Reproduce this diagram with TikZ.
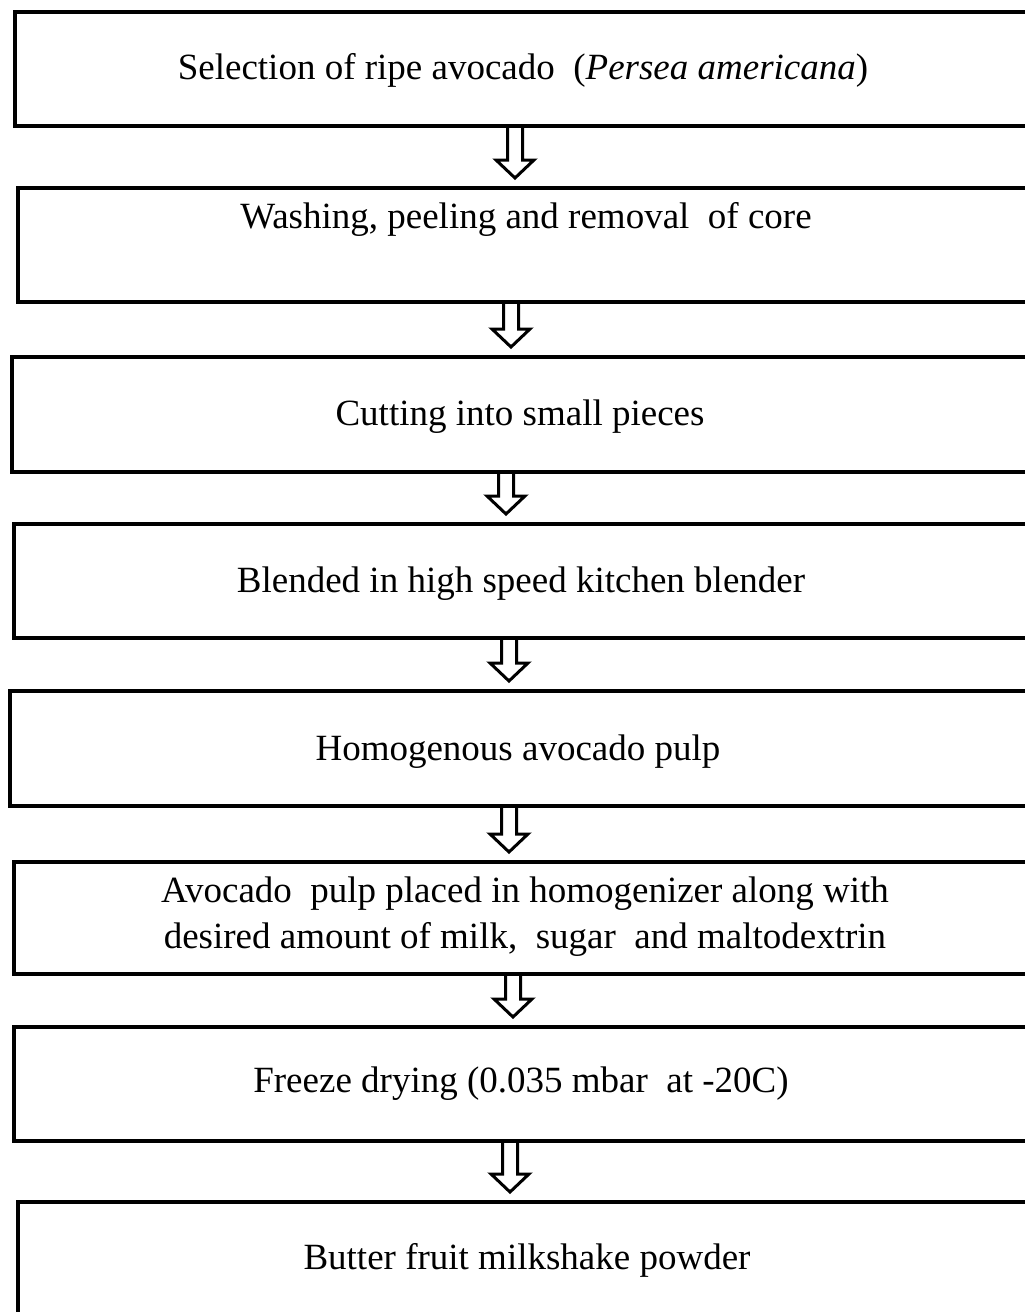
\documentclass[tikz,border=0pt]{standalone}
\usepackage{fontspec}
\setmainfont{Liberation Serif}
\usetikzlibrary{calc}
\tikzset{
  box/.style={draw, line width=4pt, anchor=north west, inner sep=0pt, minimum width=1040pt},
  label/.style={font=\fontsize{37}{46}\selectfont, align=center, inner sep=0pt},
  arrowline/.style={draw, line width=3pt, line join=miter, fill=white}
}
\newcommand\hollowarrow[3]{%
  \path[arrowline] let \p1=(#2.south west), \p2=(#3.north west) in
    (#1pt-7.5pt,\y1) -- (#1pt-7.5pt,\y2+26pt) -- (#1pt-19pt,\y2+26pt) -- (#1pt,\y2+8pt)
    -- (#1pt+19pt,\y2+26pt) -- (#1pt+7.5pt,\y2+26pt) -- (#1pt+7.5pt,\y1);
}
\begin{document}
\begin{tikzpicture}[x=1pt,y=-1pt]
\useasboundingbox[fill=white] (0,0) rectangle (1025,1312);
\node[box, minimum height=114pt] (b1) at (13,10) {};
\node[box, minimum height=114pt] (b2) at (16,186) {};
\node[box, minimum height=115pt] (b3) at (10,355) {};
\node[box, minimum height=114pt] (b4) at (12,522) {};
\node[box, minimum height=115pt] (b5) at (8,689) {};
\node[box, minimum height=112pt] (b6) at (12,860) {};
\node[box, minimum height=114pt] (b7) at (12,1025) {};
\node[box, minimum height=140pt] (b8) at (16,1200) {};

\node[label] (t1) at (523,70) {Selection of ripe avocado \ (\textit{Persea americana})};
\node[label] (t2) at (526,219) {Washing, peeling and removal \ of core};
\node[label] (t3) at (520,417) {Cutting into small pieces};
\node[label] (t4) at (521,584) {Blended in high speed kitchen blender};
\node[label] (t5) at (518,752) {Homogenous avocado pulp};
\node[label] (t6) at (525,917) {Avocado \ pulp placed in homogenizer along with\\desired amount of milk, \ sugar \ and maltodextrin};
\node[label] (t7) at (521,1084) {Freeze drying (0.035 mbar \ at -20C)};
\node[label] (t8) at (527,1260) {Butter fruit milkshake powder};

\hollowarrow{515}{b1}{b2}
\hollowarrow{511}{b2}{b3}
\hollowarrow{506}{b3}{b4}
\hollowarrow{509}{b4}{b5}
\hollowarrow{509}{b5}{b6}
\hollowarrow{513}{b6}{b7}
\hollowarrow{510}{b7}{b8}
\end{tikzpicture}
\end{document}
